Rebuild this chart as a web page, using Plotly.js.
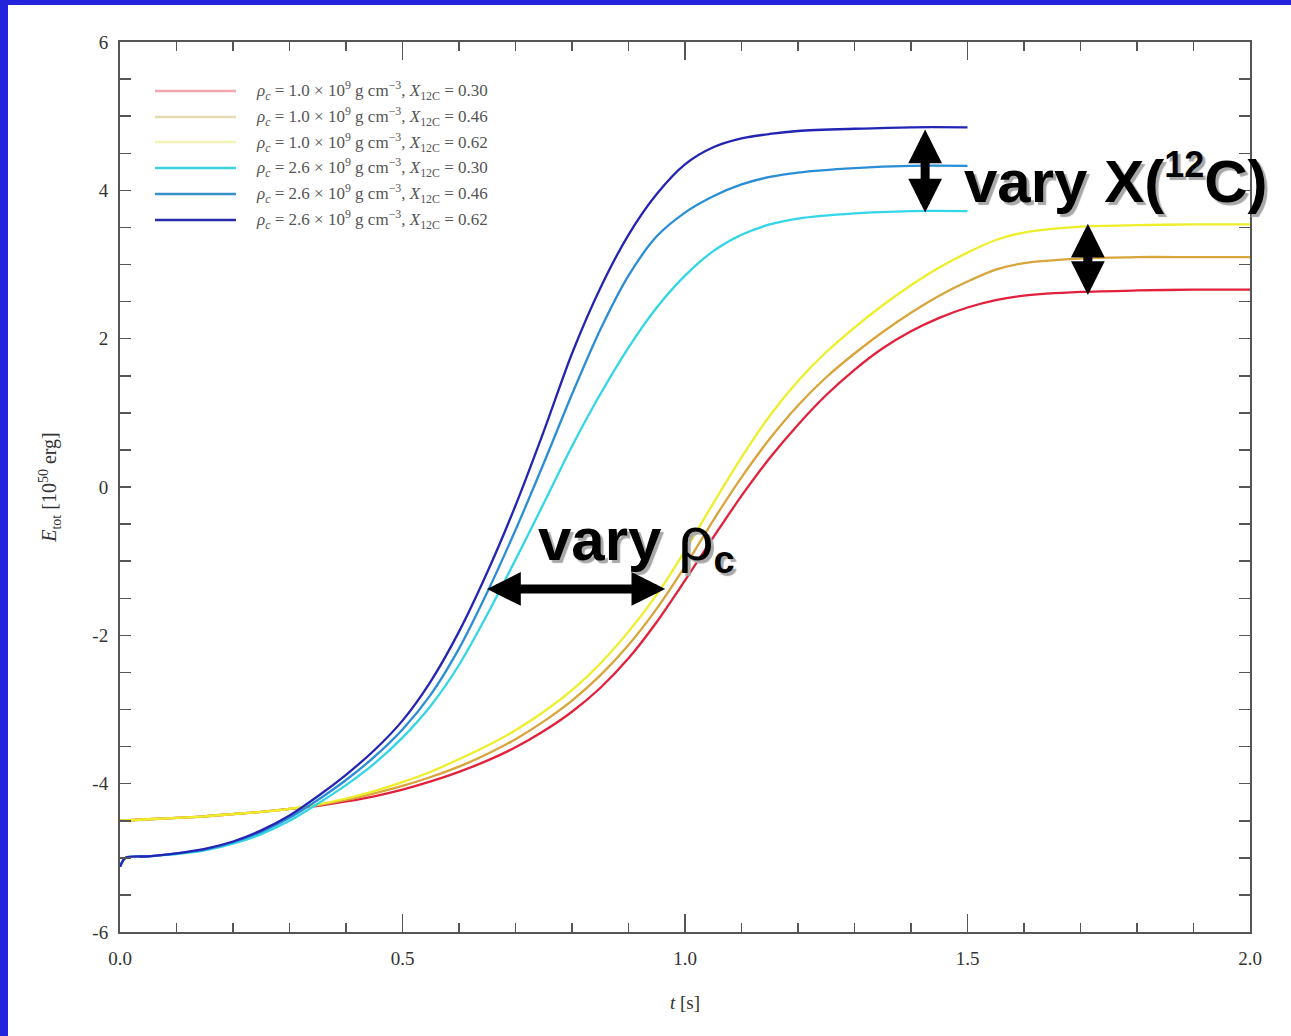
<!DOCTYPE html>
<html><head><meta charset="utf-8">
<script src="https://cdn.plot.ly/plotly-3.0.1.min.js"></script>
<style>
html,body{margin:0;padding:0;background:#2323dc;overflow:hidden;}
#plot{position:absolute;left:8px;top:5px;width:1283px;height:1031px;background:#fff;}
</style></head><body><div id="plot"></div><script>
// ---- data ----
const T_LOW = [0,0.05,0.1,0.15,0.2,0.25,0.3,0.35,0.4,0.45,0.5,0.55,0.6,0.65,0.7,0.75,0.8,0.85,0.9,0.95,1.0,1.05,1.1,1.15,1.2,1.25,1.3,1.35,1.4,1.45,1.5,1.55,1.6,1.7,1.8,1.9,2.0];
const E_RHO10_X030 = [-4.50,-4.48,-4.46,-4.44,-4.41,-4.38,-4.34,-4.30,-4.24,-4.17,-4.08,-3.97,-3.84,-3.69,-3.51,-3.29,-3.03,-2.71,-2.31,-1.82,-1.26,-0.68,-0.12,0.39,0.84,1.24,1.58,1.87,2.10,2.28,2.42,2.52,2.58,2.63,2.65,2.66,2.66];
const E_RHO10_X046 = [-4.50,-4.48,-4.46,-4.44,-4.41,-4.38,-4.34,-4.29,-4.22,-4.13,-4.03,-3.91,-3.77,-3.60,-3.40,-3.16,-2.88,-2.54,-2.13,-1.64,-1.07,-0.45,0.13,0.65,1.10,1.48,1.80,2.09,2.35,2.58,2.77,2.93,3.02,3.08,3.10,3.10,3.10];
const E_RHO10_X062 = [-4.50,-4.48,-4.46,-4.44,-4.41,-4.38,-4.34,-4.28,-4.20,-4.10,-3.98,-3.84,-3.67,-3.49,-3.28,-3.03,-2.74,-2.38,-1.95,-1.45,-0.86,-0.22,0.40,0.96,1.43,1.82,2.15,2.45,2.72,2.96,3.16,3.33,3.43,3.51,3.53,3.54,3.54];

const T_HIGH = [0,0.01,0.05,0.1,0.15,0.2,0.25,0.3,0.35,0.4,0.45,0.5,0.55,0.6,0.65,0.7,0.75,0.8,0.85,0.9,0.95,1.0,1.05,1.1,1.15,1.2,1.3,1.4,1.5];
const E_RHO26_X030 = [-5.12,-5.00,-4.98,-4.95,-4.90,-4.81,-4.68,-4.50,-4.27,-4.02,-3.73,-3.38,-2.95,-2.40,-1.72,-0.98,-0.22,0.55,1.25,1.88,2.42,2.85,3.18,3.40,3.54,3.62,3.69,3.72,3.72];
const E_RHO26_X046 = [-5.12,-5.00,-4.98,-4.94,-4.89,-4.79,-4.65,-4.46,-4.22,-3.95,-3.64,-3.27,-2.80,-2.18,-1.42,-0.58,0.32,1.25,2.12,2.85,3.38,3.70,3.92,4.08,4.18,4.24,4.30,4.33,4.33];
const E_RHO26_X062 = [-5.12,-5.00,-4.98,-4.94,-4.88,-4.78,-4.63,-4.43,-4.17,-3.88,-3.55,-3.15,-2.62,-1.95,-1.15,-0.25,0.75,1.80,2.68,3.40,3.95,4.35,4.58,4.70,4.76,4.80,4.83,4.85,4.85];

const RHO_C = ['1.0','1.0','1.0','2.6','2.6','2.6'];
const X_C12 = ['0.30','0.46','0.62','0.30','0.46','0.62'];

const X_TICKS = [0, 0.5, 1.0, 1.5, 2.0];
const X_TICK_TEXT = ['0.0','0.5','1.0','1.5','2.0'];
const Y_TICKS = [-6,-4,-2,0,2,4,6];
const Y_TICK_TEXT = ['-6','-4','-2','0','2','4','6'];

// ---- styles ----
const COLORS = ['#e2203c','#d9a53a','#eeee2a','#33d6e6','#2a8ed6','#2424b4'];
const LEGEND_COLORS = ['#f2a6ae','#e6dcb4','#f3f3b8','#3ad2e2','#3890c8','#2a2aa8'];
const SERIES = [
  [T_LOW, E_RHO10_X030],[T_LOW, E_RHO10_X046],[T_LOW, E_RHO10_X062],
  [T_HIGH, E_RHO26_X030],[T_HIGH, E_RHO26_X046],[T_HIGH, E_RHO26_X062]
];

// plot area in page pixels (div offset 8,5)
const L = 120, R = 1250, TOP = 42, BOT = 932;
const px = X => (X - L) / (R - L);
const py = Y => (BOT - Y) / (BOT - TOP);

const labels = RHO_C.map((r,i) =>
  `<i>ρ<sub>c</sub></i> = ${r} × 10<sup>9</sup> g cm<sup>−3</sup>, <i>X</i><sub>12C</sub> = ${X_C12[i]}`);

const traces = SERIES.map((s,i) => ({
  x: s[0], y: s[1], type: 'scatter', mode: 'lines',
  line: {color: COLORS[i], width: 2.3, shape: 'spline', smoothing: 0.8},
  name: labels[i], showlegend: false, hoverinfo: 'skip'
}));

const rows = [91,117,142,168,194,220];
const shapes = [], annotations = [];
rows.forEach((Y,i) => {
  shapes.push({type:'line', xref:'paper', yref:'paper', x0:px(155), x1:px(236), y0:py(Y), y1:py(Y),
    line:{color:LEGEND_COLORS[i], width:2.4}});
  annotations.push({xref:'paper', yref:'paper', x:px(254), y:py(Y), xanchor:'left', yanchor:'middle',
    showarrow:false, text:labels[i], font:{family:'Liberation Serif, Times New Roman, serif', size:17, color:'#555'}});
});

const bigFont = {family:'Liberation Sans, Arial, sans-serif', size:60, color:'#000', shadow:'3px 3px 1px #a8a8a8'};
annotations.push({xref:'paper', yref:'paper', x:px(962), y:py(180), xanchor:'left', yanchor:'middle',
  showarrow:false, text:'<b>vary X(<sup><span style="font-size:36px">12</span></sup>C)</b>', font:bigFont});
annotations.push({xref:'paper', yref:'paper', x:px(536), y:py(542), xanchor:'left', yanchor:'middle',
  showarrow:false, text:'<b>vary</b> <span style="font-size:62px">ρ</span><sub><b><span style="font-size:38px">c</span></b></sub>', font:bigFont});

const arrow = (x, y, ax, ay) => ({x, y, ax, ay, xref:'x', yref:'y', axref:'x', ayref:'y',
  text:'', showarrow:true, arrowside:'end+start', arrowhead:2, startarrowhead:2,
  arrowsize:0.75, startarrowsize:0.75, arrowwidth:9, arrowcolor:'#000', standoff:0, startstandoff:0});
annotations.push(arrow(1.425, 4.82, 1.425, 3.68));
annotations.push(arrow(1.713, 3.55, 1.713, 2.57));
annotations.push(arrow(0.965, -1.375, 0.647, -1.375));

const axisCommon = {
  showgrid:false, zeroline:false, showline:true, linecolor:'#555', linewidth:2,
  mirror:'ticks', ticks:'inside', tickcolor:'#555', tickwidth:1.5,
  tickfont:{family:'Liberation Serif, Times New Roman, serif', size:19, color:'#333'}
};

const layout = {
  width:1283, height:1031,
  margin:{l:L-8, r:1291-R, t:TOP-5, b:1036-BOT},
  paper_bgcolor:'#ffffff', plot_bgcolor:'#ffffff',
  showlegend:false,
  xaxis: Object.assign({}, axisCommon, {
    range:[0,2], tickmode:'array', tickvals:X_TICKS, ticktext:X_TICK_TEXT, ticklen:18,
    minor:{tick0:0, dtick:0.1, ticks:'inside', ticklen:9, tickcolor:'#555', tickwidth:1.5},
    ticklabelstandoff:8,
    title:{text:'<i>t</i> [s]', font:{family:'Liberation Serif, Times New Roman, serif', size:19, color:'#333'}, standoff:28}
  }),
  yaxis: Object.assign({}, axisCommon, {
    range:[-6,6], tickmode:'array', tickvals:Y_TICKS, ticktext:Y_TICK_TEXT, ticklen:11,
    minor:{tick0:0, dtick:0.5, ticks:'inside', ticklen:11, tickcolor:'#555', tickwidth:1.5},
    ticklabelstandoff:6,
    title:{text:'<i>E</i><sub>tot</sub> [10<sup>50</sup> erg]', font:{family:'Liberation Serif, Times New Roman, serif', size:20, color:'#333'}, standoff:30}
  }),
  shapes, annotations
};

Plotly.newPlot('plot', traces, layout, {staticPlot:true, displayModeBar:false});
</script></body></html>
